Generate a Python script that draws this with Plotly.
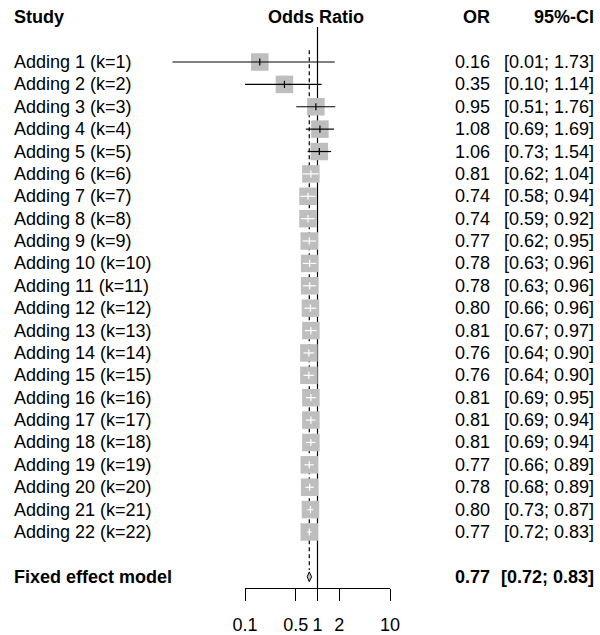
import plotly.graph_objects as go

# Cumulative meta-analysis: odds ratios with 95% confidence limits
studies = [f"Adding {k} (k={k})" for k in range(1, 23)]
odds_ratio = [0.16, 0.35, 0.95, 1.08, 1.06, 0.81, 0.74, 0.74, 0.77, 0.78, 0.78,
              0.80, 0.81, 0.76, 0.76, 0.81, 0.81, 0.81, 0.77, 0.78, 0.80, 0.77]
ci_lower = [0.01, 0.10, 0.51, 0.69, 0.73, 0.62, 0.58, 0.59, 0.62, 0.63, 0.63,
            0.66, 0.67, 0.64, 0.64, 0.69, 0.69, 0.69, 0.66, 0.68, 0.73, 0.72]
ci_upper = [1.73, 1.14, 1.76, 1.69, 1.54, 1.04, 0.94, 0.92, 0.95, 0.96, 0.96,
            0.96, 0.97, 0.90, 0.90, 0.95, 0.94, 0.94, 0.89, 0.89, 0.87, 0.83]

pooled_label = "Fixed effect model"
pooled_or = 0.77
pooled_lower = 0.72
pooled_upper = 0.83

axis_ticks = [0.1, 0.5, 1, 2, 10]
axis_ticktext = ["0.1", "0.5", "1", "2", "10"]

# ---- layout constants -------------------------------------------------------
W, H = 600, 635
FONT = "Liberation Sans, Arial, sans-serif"
FS = 18
GREY = "#BEBEBE"
SQUARE_PX = 17.5
PX_PER_DECADE = 72.5
ROW_PX = 22.38

n = len(studies)
rows = list(range(1, n + 1))
pooled_row = n + 2
header_row = -1
axis_row = pooled_row + 0.5
y_top = 1 - 62 / ROW_PX
y_bottom = 1 + (H - 62) / ROW_PX

# full-width log axis for the marks: 0.1 sits at x=245px, 10 at x=390px
x_left = -1 - 245 / PX_PER_DECADE
x_right = x_left + W / PX_PER_DECADE

fig = go.Figure()

# reference lines: line of no effect and dashed pooled estimate
fig.add_trace(go.Scatter(x=[1, 1], y=[-0.56, axis_row], mode="lines",
                         line=dict(color="black", width=1.2),
                         hoverinfo="skip", showlegend=False))
fig.add_trace(go.Scatter(x=[pooled_or, pooled_or], y=[0.47, pooled_row - 0.3],
                         mode="lines",
                         line=dict(color="black", width=1.2, dash="4px,3px"),
                         hoverinfo="skip", showlegend=False))

# squares
fig.add_trace(go.Scatter(x=odds_ratio, y=rows, mode="markers",
                         marker=dict(symbol="square", size=SQUARE_PX, color=GREY,
                                     line=dict(width=0)),
                         hoverinfo="skip", showlegend=False))

# confidence intervals and estimate ticks; white where the CI fits in the square
half = 10 ** (SQUARE_PX / 2 / PX_PER_DECADE)
tick_h = 0.16
seg = {"black": ([], []), "white": ([], [])}
for r, est, lo, hi in zip(rows, odds_ratio, ci_lower, ci_upper):
    inside = lo >= est / half - 1e-9 and hi <= est * half + 1e-9
    xs, ys = seg["white" if inside else "black"]
    xs += [lo, hi, None, est, est, None]
    ys += [r, r, None, r - tick_h, r + tick_h, None]
for col, (xs, ys) in seg.items():
    fig.add_trace(go.Scatter(x=xs, y=ys, mode="lines",
                             line=dict(color=col, width=1.2),
                             hoverinfo="skip", showlegend=False))

# pooled diamond
dh = 0.22
fig.add_trace(go.Scatter(
    x=[pooled_lower, pooled_or, pooled_upper, pooled_or, pooled_lower],
    y=[pooled_row, pooled_row - dh, pooled_row, pooled_row + dh, pooled_row],
    mode="lines", fill="toself", fillcolor=GREY,
    line=dict(color="black", width=1),
    hoverinfo="skip", showlegend=False))

# invisible trace that carries the visible odds-ratio axis
fig.add_trace(go.Scatter(x=[0.1, 10], y=[axis_row, axis_row], xaxis="x2",
                         yaxis="y", mode="none", hoverinfo="skip",
                         showlegend=False))

# ---- text columns -----------------------------------------------------------
ann = []


def txt(text, xpx, y, anchor, bold=False):
    ann.append(dict(text=f"<b>{text}</b>" if bold else text,
                    x=xpx / W, xref="paper", y=y, yref="y",
                    xanchor=anchor, yanchor="middle", showarrow=False,
                    font=dict(family=FONT, size=FS, color="black")))


txt("Study", 12, header_row, "left", True)
txt("Odds Ratio", 316, header_row, "center", True)
txt("OR", 492, header_row, "right", True)
txt("95%-CI", 596, header_row, "right", True)

for r, name, est, lo, hi in zip(rows, studies, odds_ratio, ci_lower, ci_upper):
    txt(name, 12, r, "left")
    txt(f"{est:.2f}", 492, r, "right")
    txt(f"[{lo:.2f}; {hi:.2f}]", 596, r, "right")

txt(pooled_label, 12, pooled_row, "left", True)
txt(f"{pooled_or:.2f}", 492, pooled_row, "right", True)
txt(f"[{pooled_lower:.2f}; {pooled_upper:.2f}]", 596, pooled_row, "right", True)

fig.update_layout(
    width=W, height=H, autosize=False,
    margin=dict(l=0, r=0, t=0, b=0, pad=0, autoexpand=False),
    paper_bgcolor="white", plot_bgcolor="rgba(0,0,0,0)",
    showlegend=False,
    annotations=ann,
    xaxis=dict(type="log", range=[x_left, x_right], domain=[0, 1],
               visible=False, fixedrange=True, automargin=False),
    yaxis=dict(range=[y_bottom, y_top], domain=[0, 1], visible=False,
               fixedrange=True, automargin=False),
    xaxis2=dict(type="log", range=[-1, 1], domain=[245 / W, 390 / W],
                anchor="free", position=1 - 588 / H, automargin=False,
                showline=True, linecolor="black", linewidth=1.2,
                ticks="outside", ticklen=12, tickwidth=1.2, tickcolor="black",
                tickvals=axis_ticks, ticktext=axis_ticktext,
                ticklabelstandoff=8,
                tickfont=dict(family=FONT, size=FS, color="black"),
                showgrid=False, zeroline=False, fixedrange=True),
)

fig.write_html("out.html")
